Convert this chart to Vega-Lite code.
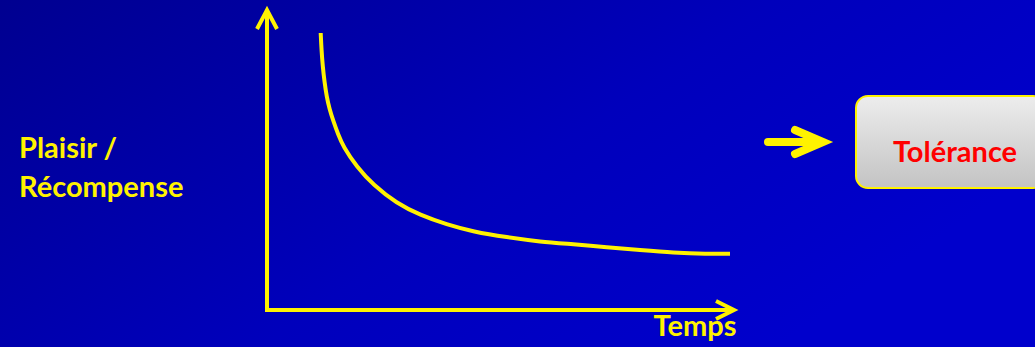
{
  "$schema": "https://vega.github.io/schema/vega-lite/v6.json",
  "width": 1035,
  "height": 347,
  "autosize": {"type": "fit", "contains": "padding"},
  "padding": 0,
  "background": "#0000B0",
  "config": {"view": {"stroke": null}},
  "datasets": {
    "bg": [{"x": 0, "x2": 1035, "y": 0, "y2": 347}],
    "axes": [
      {"path": "yaxis", "i": 0, "x": 267, "y": 310},
      {"path": "yaxis", "i": 1, "x": 267, "y": 11},
      {"path": "yhead", "i": 0, "x": 257, "y": 29},
      {"path": "yhead", "i": 1, "x": 267, "y": 10},
      {"path": "yhead", "i": 2, "x": 277, "y": 29},
      {"path": "xaxis", "i": 0, "x": 265, "y": 310},
      {"path": "xaxis", "i": 1, "x": 733, "y": 310},
      {"path": "xhead", "i": 0, "x": 716, "y": 301},
      {"path": "xhead", "i": 1, "x": 734, "y": 310},
      {"path": "xhead", "i": 2, "x": 716, "y": 319}
    ],
    "curve": [
      {"t": 320.7, "p": 33},
      {"t": 321.5, "p": 50},
      {"t": 322.7, "p": 66},
      {"t": 324.5, "p": 82},
      {"t": 326.7, "p": 96.7},
      {"t": 329.5, "p": 109},
      {"t": 333.3, "p": 121},
      {"t": 338, "p": 134},
      {"t": 343.3, "p": 146.7},
      {"t": 356.7, "p": 166.7},
      {"t": 373.3, "p": 185},
      {"t": 396.7, "p": 203.3},
      {"t": 420, "p": 215},
      {"t": 446.7, "p": 224.5},
      {"t": 473.3, "p": 231.7},
      {"t": 506.7, "p": 237.3},
      {"t": 540, "p": 241.7},
      {"t": 573.3, "p": 244.3},
      {"t": 606.7, "p": 247.3},
      {"t": 640, "p": 250},
      {"t": 673.3, "p": 252.7},
      {"t": 706.7, "p": 254},
      {"t": 730, "p": 253.7}
    ],
    "arrow": [
      {"path": "shaft", "i": 0, "x": 768, "y": 142},
      {"path": "shaft", "i": 1, "x": 816, "y": 142},
      {"path": "head", "i": 0, "x": 795, "y": 130},
      {"path": "head", "i": 1, "x": 823, "y": 142},
      {"path": "head", "i": 2, "x": 795, "y": 154}
    ],
    "box": [{"x": 856, "x2": 1045, "y": 96, "y2": 188}],
    "labels": [
      {"text": "Plaisir /", "x": 19, "y": 158},
      {"text": "Récompense", "x": 19, "y": 197}
    ],
    "temps": [{"text": "Temps", "x": 695, "y": 336}],
    "tol": [{"text": "Tolérance", "x": 955, "y": 162}]
  },
  "layer": [
    {
      "data": {"name": "bg"},
      "mark": {
        "type": "rect",
        "fill": {
          "gradient": "linear",
          "x1": 0, "y1": 0, "x2": 1, "y2": 0.5,
          "stops": [
            {"offset": 0, "color": "#000090"},
            {"offset": 0.6, "color": "#0000BC"},
            {"offset": 1, "color": "#0000CC"}
          ]
        }
      },
      "encoding": {
        "x": {"field": "x", "type": "quantitative", "scale": {"domain": [0, 1035], "nice": false, "zero": false}, "axis": null},
        "x2": {"field": "x2"},
        "y": {"field": "y", "type": "quantitative", "scale": {"domain": [0, 347], "nice": false, "zero": false, "reverse": true}, "axis": null},
        "y2": {"field": "y2"}
      }
    },
    {
      "data": {"name": "axes"},
      "mark": {"type": "line", "color": "#FFF200", "strokeWidth": 4, "strokeCap": "butt", "strokeJoin": "miter"},
      "encoding": {
        "x": {"field": "x", "type": "quantitative"},
        "y": {"field": "y", "type": "quantitative"},
        "detail": {"field": "path"},
        "order": {"field": "i"}
      }
    },
    {
      "data": {"name": "curve"},
      "mark": {"type": "line", "color": "#FFF200", "strokeWidth": 4, "interpolate": "basis", "strokeCap": "butt"},
      "encoding": {
        "x": {"field": "t", "type": "quantitative"},
        "y": {"field": "p", "type": "quantitative"}
      }
    },
    {
      "data": {"name": "arrow"},
      "mark": {"type": "line", "color": "#FFF200", "strokeWidth": 8, "strokeCap": "round", "strokeJoin": "miter"},
      "encoding": {
        "x": {"field": "x", "type": "quantitative"},
        "y": {"field": "y", "type": "quantitative"},
        "detail": {"field": "path"},
        "order": {"field": "i"}
      }
    },
    {
      "data": {"name": "box"},
      "mark": {
        "type": "rect",
        "clip": true,
        "cornerRadius": 12,
        "stroke": "#FFF200",
        "strokeWidth": 2,
        "fill": {
          "gradient": "linear",
          "x1": 0, "y1": 0, "x2": 0, "y2": 1,
          "stops": [
            {"offset": 0, "color": "#EDEDED"},
            {"offset": 1, "color": "#C3C3C3"}
          ]
        }
      },
      "encoding": {
        "x": {"field": "x", "type": "quantitative"},
        "x2": {"field": "x2"},
        "y": {"field": "y", "type": "quantitative"},
        "y2": {"field": "y2"}
      }
    },
    {
      "data": {"name": "labels"},
      "mark": {"type": "text", "align": "left", "baseline": "alphabetic", "font": "Lato", "fontWeight": "bold", "fontSize": 29, "color": "#FFF200"},
      "encoding": {
        "x": {"field": "x", "type": "quantitative"},
        "y": {"field": "y", "type": "quantitative"},
        "text": {"field": "text"}
      }
    },
    {
      "data": {"name": "temps"},
      "mark": {"type": "text", "align": "center", "baseline": "alphabetic", "font": "Lato", "fontWeight": "bold", "fontSize": 29, "color": "#FFF200"},
      "encoding": {
        "x": {"field": "x", "type": "quantitative"},
        "y": {"field": "y", "type": "quantitative"},
        "text": {"field": "text"}
      }
    },
    {
      "data": {"name": "tol"},
      "mark": {"type": "text", "align": "center", "baseline": "alphabetic", "font": "Lato", "fontWeight": "bold", "fontSize": 29, "color": "#FF0000"},
      "encoding": {
        "x": {"field": "x", "type": "quantitative"},
        "y": {"field": "y", "type": "quantitative"},
        "text": {"field": "text"}
      }
    }
  ]
}
